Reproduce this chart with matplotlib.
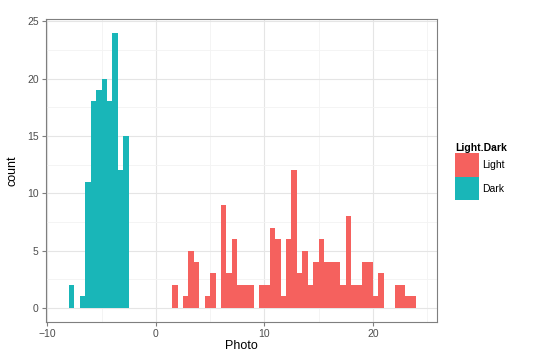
import numpy as np
import matplotlib
matplotlib.use("Agg")
import matplotlib.pyplot as plt
from matplotlib.patches import Patch

plt.rcParams['font.family'] = ['Liberation Sans', 'DejaVu Sans']

# histogram bins (left edges, width 0.5) and counts
bin_width = 0.5
dark_start = -8.0
dark_counts = [2, 0, 1, 11, 18, 19, 20, 18, 24, 12, 15]
light_start = 1.5
light_counts = [2, 0, 1, 5, 4, 0, 1, 3, 0, 9, 3, 6, 2, 2, 2, 0, 2, 2, 7, 6,
                1, 6, 12, 3, 5, 2, 4, 6, 4, 4, 4, 2, 8, 2, 2, 4, 4, 1, 3, 0,
                0, 2, 2, 1, 1]
groups = ["Light", "Dark"]
colors = ["#F5615E", "#19B6B8"]

dark_x = dark_start + bin_width * np.arange(len(dark_counts))
light_x = light_start + bin_width * np.arange(len(light_counts))

fig = plt.figure(figsize=(5.4, 3.63), dpi=100)
ax = fig.add_axes([0.0846, 0.114, 0.7245, 0.834])

ax.bar(light_x, light_counts, width=bin_width, align="edge",
       color=colors[0], linewidth=0, zorder=3)
ax.bar(dark_x, dark_counts, width=bin_width, align="edge",
       color=colors[1], linewidth=0, zorder=3)

ax.set_xlim(-10.15, 25.9)
ax.set_ylim(-1.2, 25.2)
ax.set_xticks([-10, 0, 10, 20])
ax.set_yticks([0, 5, 10, 15, 20, 25])
ax.set_xticks([-5, 5, 15, 25], minor=True)
ax.set_yticks([2.5, 7.5, 12.5, 17.5, 22.5], minor=True)
ax.grid(which="major", color="#E5E5E5", linewidth=0.8, zorder=0)
ax.grid(which="minor", color="#F3F3F3", linewidth=0.6, zorder=0)
ax.tick_params(which="minor", length=0)
ax.tick_params(which="major", length=3, width=0.8, color="#7F7F7F",
               labelsize=7.5, labelcolor="#4D4D4D", pad=2)
for s in ax.spines.values():
    s.set_color("#7F7F7F")
    s.set_linewidth(0.8)

ax.set_xlabel("Photo", fontsize=9, labelpad=1)
ax.set_ylabel("count", fontsize=9, labelpad=6)

handles = [Patch(facecolor=c, edgecolor="none") for c in colors]
leg = fig.legend(handles, groups, title="Light.Dark", loc="upper left",
                 bbox_to_anchor=(0.843, 0.605), frameon=False, fontsize=7.5,
                 title_fontsize=7.5, handlelength=2.3, handleheight=3.1,
                 handletextpad=0.3, labelspacing=0.0, borderaxespad=0,
                 borderpad=0)
leg.get_title().set_fontweight("bold")
leg._legend_box.align = "left"

fig.savefig("out.png", dpi=100)
